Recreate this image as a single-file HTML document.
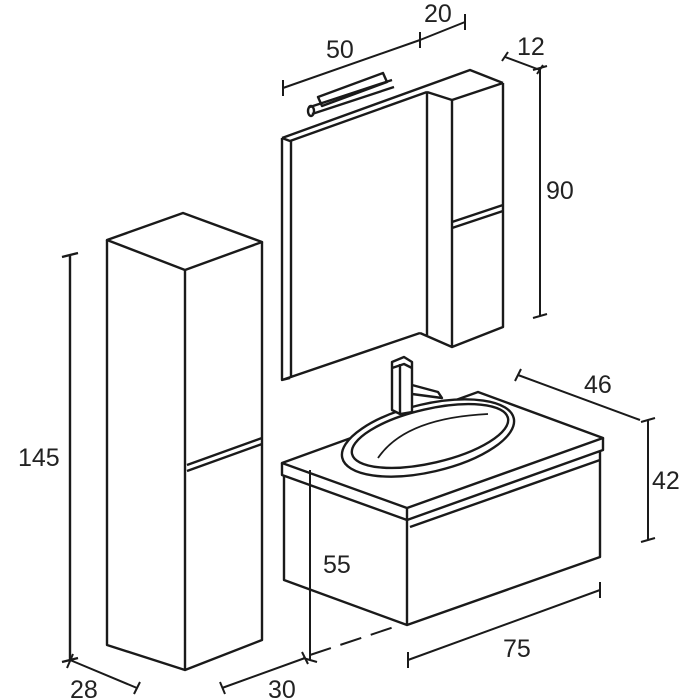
<!DOCTYPE html>
<html><head><style>body{margin:0;background:#fff}svg{display:block}text{font-family:"Liberation Sans",sans-serif;font-size:25px;fill:#222;stroke:none}</style></head>
<body>
<svg width="700" height="700" viewBox="0 0 700 700" fill="none" stroke="#1a1a1a" stroke-width="2.4" stroke-linejoin="round">
<path d="M107,240 L183,213 L262,242 L185,270 Z"/>
<path d="M107,240 V645 L185,670 V270 M185,670 L262,640 V242"/>
<path d="M187,465 L262,438 M187,471 L262,444"/>
<path d="M70,255 V660 M62,257 L78,253 M62,662 L78,658"/>
<text x="18" y="466">145</text>
<path d="M70,660 L137,688 M67,668 L73,654 M134,694 L140,682" stroke-width="2"/>
<text x="70" y="698">28</text>
<path d="M222,688 L305,658 M220,682 L225,694 M302,652 L308,664" stroke-width="2"/>
<text x="268" y="698">30</text>
<path d="M282,138 L470,70 L503,83 M282,138 V380 L290,378 M291,141 V378 M282,380 L420,333"/>
<path d="M282,138 L290,141 L427,92"/>
<path d="M427,92 V335 M420,333 L452,347 L503,327 V83 M427,92 L452,100 L503,83 M452,100 V347"/>
<path d="M452,222 L503,205 M452,228 L503,211"/>
<path d="M318,97 L383,73 L387,82 L322,106 Z"/>
<path d="M310,107 L392,80 M312,114 L394,87"/>
<ellipse cx="311" cy="111" rx="3" ry="5"/>
<path d="M283,88 L420,40 M283,80 V96 M420,32 V48 M420,40 L465,22 M465,14 V30" stroke-width="2"/>
<text x="326" y="58">50</text>
<text x="424" y="22">20</text>
<path d="M505,57 L540,70 M502,61 L508,52 M537,74 L543,65" stroke-width="2"/>
<text x="517" y="55">12</text>
<path d="M540,68 V316 M533,70 L547,66 M533,318 L547,314" stroke-width="2"/>
<text x="546" y="199">90</text>
<path d="M282,463 L478,392 L603,438 L407,508 Z"/>
<path d="M282,463 V475 L407,520 L603,450 V438 M407,508 V520"/>
<path d="M284,475 V580 L407,625 V520 M407,625 L600,557 V452"/>
<path d="M410,527 L600,460"/>
<ellipse cx="428" cy="438" rx="88" ry="34" transform="rotate(-13 428 438)" fill="#fff"/>
<ellipse cx="430" cy="436" rx="80" ry="27" transform="rotate(-13 430 436)"/>
<path d="M378,458 Q405,418 488,414" stroke-width="1.8"/>
<path d="M392,362 L404,357 L412,362 V412 L400,414 L392,410 Z" fill="#fff"/>
<path d="M392,368 L404,364 L412,368 M400,364 V414"/>
<path d="M412,385 L438,392 L442,398 L412,394"/>
<path d="M518,375 L640,420 M515,381 L521,369" stroke-width="2"/>
<text x="584" y="393">46</text>
<path d="M648,420 V540 M641,422 L655,418 M641,542 L655,538" stroke-width="2"/>
<text x="652" y="489">42</text>
<path d="M310,470 V660 M303,658 L317,662" stroke-width="2"/>
<text x="323" y="573">55</text>
<path d="M310,655 L400,625" stroke-width="2" stroke-dasharray="22 10"/>
<path d="M408,660 L600,590 M408,652 V668 M600,582 V598" stroke-width="2"/>
<text x="503" y="657">75</text>
</svg>
</body></html>
